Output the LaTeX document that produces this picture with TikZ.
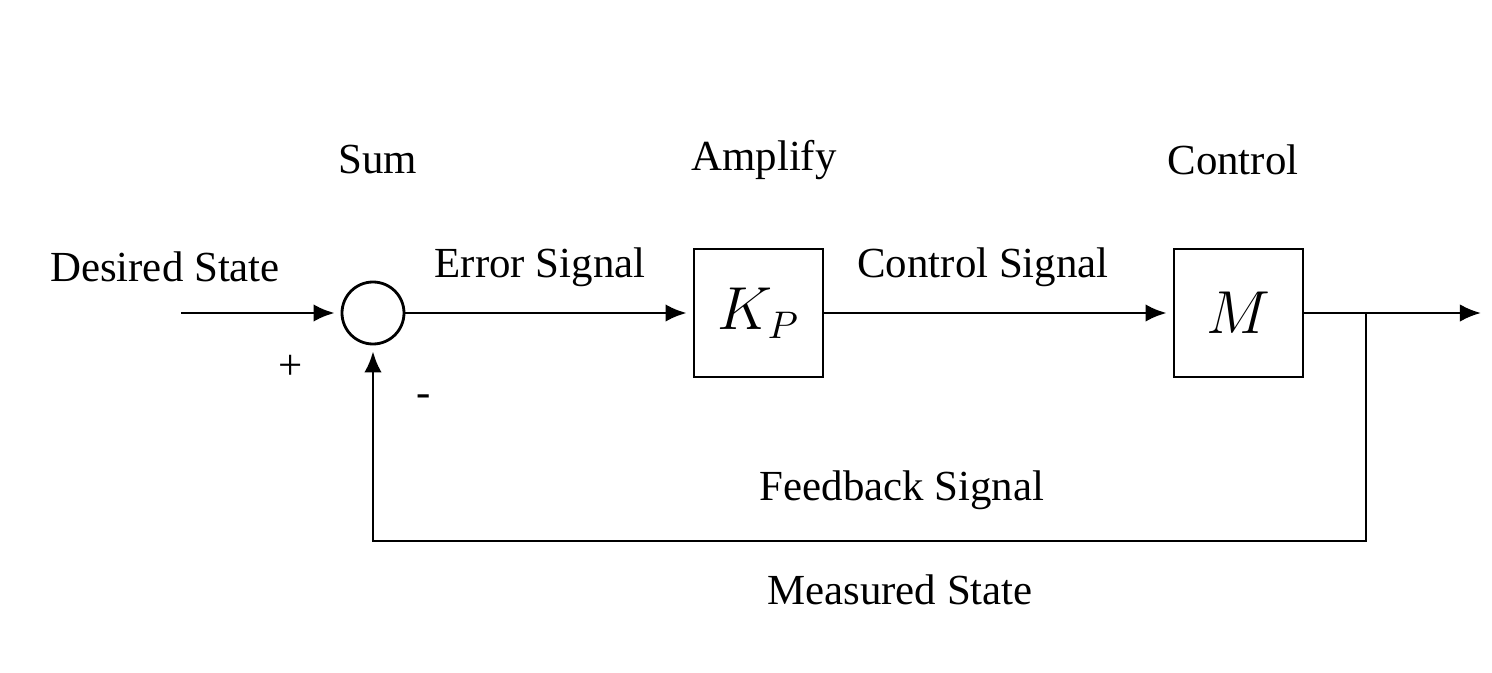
\documentclass[tikz,border=0pt]{standalone}
\usepackage{fontspec}
\setmainfont{Liberation Serif}
\usetikzlibrary{arrows.meta}
\tikzstyle{block}=[draw, line width=0.8pt, minimum width=1.29cm,
    minimum height=1.28cm, inner sep=0pt, font=\fontsize{16}{19}\selectfont]
\tikzstyle{sum}=[circle, draw, line width=0.8pt, minimum size=0.62cm, inner sep=0pt]
\tikzstyle{lbl}=[font=\fontsize{12.2}{15}\selectfont, inner sep=0pt]
\tikzstyle{sig}=[line width=0.8pt, -{Latex[length=6pt,width=5pt]}, shorten >=0.06cm]

\begin{document}
\begin{tikzpicture}
  \useasboundingbox (0,0) rectangle (14.92,6.72);
  \node at (3.73, 3.59) (s)[sum] {};
  \node at (7.585, 3.59) (kp)[block] {$K_{\scriptstyle P}$};
  \node at (12.385, 3.59) (m)[block] {$M$};
  \coordinate (in) at (1.81, 3.59);
  \coordinate (out) at (14.87, 3.59);
  \coordinate (br) at (13.66, 3.59);
  \coordinate (fb) at (13.66, 1.31);

  \node[lbl] at (3.78, 5.12) (lsum) {Sum};
  \node[lbl] at (7.64, 5.12) (lamp) {Amplify};
  \node[lbl] at (12.33, 5.12) (lctl) {Control};
  \node[lbl] at (1.65, 4.05) (ldes) {Desired State};
  \node[lbl] at (5.40, 4.05) (lerr) {Error Signal};
  \node[lbl] at (9.83, 4.05) (lcs) {Control Signal};
  \node[lbl] at (2.91, 3.05) (lplus) {+};
  \node[lbl] at (4.24, 2.71) (lminus) {-};
  \node[lbl] at (9.02, 1.82) (lfb) {Feedback Signal};
  \node[lbl] at (9.00, 0.82) (lms) {Measured State};

  \draw[sig] (in) -- (s);
  \draw[sig] (s) -- (kp);
  \draw[sig] (kp) -- (m);
  \draw[sig] (m) -- (out);
  \draw[sig] (br) -- (fb) -| (s.south);
\end{tikzpicture}
\end{document}
